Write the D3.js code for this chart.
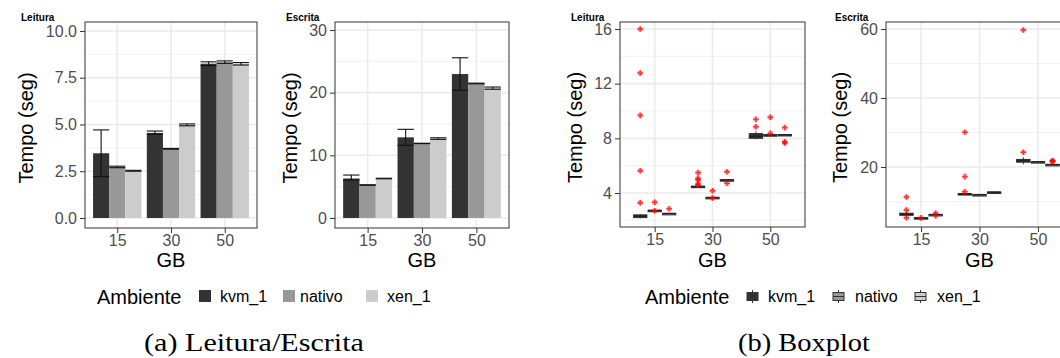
<!DOCTYPE html>
<html><head><meta charset="utf-8">
<script src="https://cdn.jsdelivr.net/npm/d3@7"></script>
<style>body{margin:0;background:#fff} text{font-family:"Liberation Sans",Arial,sans-serif}</style>
</head><body><svg id="c" width="1060" height="358"></svg>
<script>
// ---------- DATA ----------
const categories = ["15", "30", "50"];
const seriesNames = ["kvm_1", "nativo", "xen_1"];
const fills = ["#333333", "#989898", "#cccccc"];

// Bar chart – Leitura (mean, [low, high] error)
const leituraKvmMean = [3.46, 4.55, 8.25];
const leituraNativoMean = [2.72, 3.70, 8.33];
const leituraXenMean = [2.52, 4.97, 8.25];
const leituraKvmErr = [[2.21, 4.71], [4.47, 4.65], [8.15, 8.35]];
const leituraNativoErr = [[2.69, 2.77], [3.68, 3.72], [8.27, 8.40]];
const leituraXenErr = [[2.50, 2.55], [4.93, 5.03], [8.18, 8.31]];

// Bar chart – Escrita
const escritaKvmMean = [6.30, 12.87, 22.97];
const escritaNativoMean = [5.26, 11.90, 21.48];
const escritaXenMean = [6.30, 12.65, 20.75];
const escritaKvmErr = [[6.05, 6.85], [11.60, 14.15], [20.40, 25.57]];
const escritaNativoErr = [[5.22, 5.30], [11.87, 11.93], [21.42, 21.52]];
const escritaXenErr = [[6.26, 6.34], [12.55, 12.80], [20.55, 20.90]];

// Boxplot – Leitura: [whiskerLow, q1, median, q3, whiskerHigh]
const boxLeituraKvm = [[2.15, 2.20, 2.30, 2.40, 2.46], [4.40, 4.43, 4.46, 4.50, 4.52], [7.93, 8.00, 8.15, 8.35, 8.50]];
const boxLeituraNativo = [[2.66, 2.68, 2.71, 2.74, 2.76], [3.62, 3.64, 3.66, 3.68, 3.70], [8.20, 8.22, 8.24, 8.26, 8.28]];
const boxLeituraXen = [[2.46, 2.47, 2.49, 2.51, 2.52], [4.92, 4.93, 4.95, 4.97, 4.98], [8.18, 8.20, 8.24, 8.28, 8.30]];
const outLeituraKvm = [[16.0, 12.78, 9.68, 5.63, 3.29], [5.49, 5.07, 4.95, 4.66, 4.59], [9.39, 8.85]];
const outLeituraNativo = [[3.32, 2.70], [4.17, 3.64], [9.54, 8.36]];
const outLeituraXen = [[2.85], [5.56, 4.71], [8.78, 7.75, 7.66]];

// Boxplot – Escrita
const boxEscritaKvm = [[5.7, 6.0, 6.3, 6.6, 6.9], [12.0, 12.05, 12.17, 12.3, 12.35], [20.8, 21.4, 21.9, 22.2, 22.8]];
const boxEscritaNativo = [[5.10, 5.15, 5.22, 5.30, 5.35], [11.90, 11.93, 11.97, 12.01, 12.05], [21.40, 21.45, 21.50, 21.55, 21.60]];
const boxEscritaXen = [[6.00, 6.10, 6.17, 6.25, 6.35], [12.50, 12.60, 12.67, 12.75, 12.85], [20.50, 20.60, 20.67, 20.75, 20.85]];
const outEscritaKvm = [[11.3, 7.54, 5.3], [30.06, 17.2, 12.84], [59.7, 24.26]];
const outEscritaNativo = [[5.25], [], []];
const outEscritaXen = [[6.6, 5.9], [], [21.74, 21.6, 21.8]];

// tick values
const ticksBarLeitura = [0, 2.5, 5, 7.5, 10];
const ticksBarEscrita = [0, 10, 20, 30];
const ticksBoxLeitura = [4, 8, 12, 16];
const ticksBoxEscrita = [20, 40, 60];

// ---------- DRAW ----------
const svg = d3.select("#c");
const tickColor = "#4d4d4d";

function panelFrame(p) {
  const g = svg.append("g");
  const x = d3.scalePoint().domain(categories).range([p.x0, p.x1]).padding(0.6);
  const y = d3.scaleLinear().domain(p.domain).range([p.y1, p.y0]);
  // clip
  const id = "clip" + Math.random().toString(36).slice(2);
  svg.append("clipPath").attr("id", id).append("rect")
    .attr("x", p.x0).attr("y", p.y0).attr("width", p.x1 - p.x0).attr("height", p.y1 - p.y0);
  g.append("rect").attr("x", p.x0).attr("y", p.y0).attr("width", p.x1 - p.x0).attr("height", p.y1 - p.y0).attr("fill", "#fff");
  const grid = g.append("g").attr("clip-path", `url(#${id})`);
  // minor grid
  const mt = p.ticks;
  const minor = [];
  const st = mt[1] - mt[0];
  for (let v = mt[0] - st / 2; v <= p.domain[1]; v += st) if (v >= p.domain[0]) minor.push(v);
  grid.selectAll(".mi").data(minor).enter().append("line")
    .attr("x1", p.x0).attr("x2", p.x1).attr("y1", d => y(d)).attr("y2", d => y(d))
    .attr("stroke", "#f0f0f0").attr("stroke-width", 0.9);
  grid.selectAll(".ma").data(mt).enter().append("line")
    .attr("x1", p.x0).attr("x2", p.x1).attr("y1", d => y(d)).attr("y2", d => y(d))
    .attr("stroke", "#ebebeb").attr("stroke-width", 1.6);
  grid.selectAll(".mv").data(categories).enter().append("line")
    .attr("y1", p.y0).attr("y2", p.y1).attr("x1", d => x(d)).attr("x2", d => x(d))
    .attr("stroke", "#ebebeb").attr("stroke-width", 1.6);
  const marks = g.append("g").attr("clip-path", `url(#${id})`);
  return { g, x, y, marks, id };
}

function finishPanel(P, p) {
  const { g, x, y } = P;
  g.append("rect").attr("x", p.x0).attr("y", p.y0).attr("width", p.x1 - p.x0).attr("height", p.y1 - p.y0)
    .attr("fill", "none").attr("stroke", "#333").attr("stroke-width", 1);
  const ya = g.append("g").attr("transform", `translate(${p.x0},0)`)
    .call(d3.axisLeft(y).tickValues(p.ticks).tickSize(5).tickPadding(3).tickFormat(p.fmt));
  const xa = g.append("g").attr("transform", `translate(0,${p.y1})`)
    .call(d3.axisBottom(x).tickSize(5).tickPadding(2));
  [ya, xa].forEach(a => {
    a.select(".domain").remove();
    a.selectAll("line").attr("stroke", "#333");
    a.selectAll("text").attr("fill", tickColor).style("font-size", "16px").style("font-family", "Liberation Sans, Arial, sans-serif");
  });
  // titles
  g.append("text").attr("x", p.titleX).attr("y", 21).text(p.title)
    .style("font-size", "10px").style("font-weight", "bold").attr("fill", "#000");
  g.append("text").attr("transform", `translate(${p.yTitleX},${(p.y0 + p.y1) / 2 + 3}) rotate(-90)`)
    .attr("text-anchor", "middle").attr("dominant-baseline", "central")
    .style("font-size", "20px").text("Tempo (seg)");
  g.append("text").attr("x", x(categories[1])).attr("y", 267).attr("text-anchor", "middle")
    .style("font-size", "20px").text("GB");
}

function barPanel(p, means, errs) {
  const P = panelFrame(p);
  const step = P.x.step();
  const bw = step * 0.3;
  means.forEach((ser, si) => {
    ser.forEach((v, ci) => {
      const cx = P.x(categories[ci]) + (si - 1) * bw;
      P.marks.append("rect").attr("x", cx - bw / 2).attr("width", bw)
        .attr("y", P.y(v)).attr("height", P.y(0) - P.y(v)).attr("fill", fills[si]);
    });
  });
  errs.forEach((ser, si) => {
    ser.forEach((e, ci) => {
      const cx = P.x(categories[ci]) + (si - 1) * bw;
      const ge = P.marks.append("g").attr("stroke", "#111").attr("stroke-width", 1.1);
      ge.append("line").attr("x1", cx).attr("x2", cx).attr("y1", P.y(e[0])).attr("y2", P.y(e[1]));
      ge.append("line").attr("x1", cx - bw / 2).attr("x2", cx + bw / 2).attr("y1", P.y(e[0])).attr("y2", P.y(e[0]));
      ge.append("line").attr("x1", cx - bw / 2).attr("x2", cx + bw / 2).attr("y1", P.y(e[1])).attr("y2", P.y(e[1]));
    });
  });
  finishPanel(P, p);
}

function outlier(g, cx, cy) {
  g.append("circle").attr("cx", cx).attr("cy", cy).attr("r", 2.8).attr("fill", "red").attr("opacity", 0.35);
  g.append("path").attr("d", `M${cx - 2.8},${cy}H${cx + 2.8}M${cx},${cy - 2.8}V${cy + 2.8}`)
    .attr("stroke", "red").attr("stroke-width", 1.4).attr("opacity", 0.7);
}

function boxPanel(p, boxes, outs) {
  const P = panelFrame(p);
  const step = P.x.step();
  const off = step * 0.25;
  const bw = off * 0.92;
  boxes.forEach((ser, si) => {
    ser.forEach((b, ci) => {
      const cx = P.x(categories[ci]) + (si - 1) * off;
      const gb = P.marks.append("g");
      gb.append("line").attr("x1", cx).attr("x2", cx).attr("y1", P.y(b[0])).attr("y2", P.y(b[4]))
        .attr("stroke", "#333").attr("stroke-width", 1);
      const top = P.y(b[3]), bot = P.y(b[1]);
      gb.append("rect").attr("x", cx - bw / 2).attr("width", bw).attr("y", top).attr("height", Math.max(bot - top, 1.5))
        .attr("fill", fills[si]).attr("stroke", "#333").attr("stroke-width", 1);
      gb.append("line").attr("x1", cx - bw / 2).attr("x2", cx + bw / 2).attr("y1", P.y(b[2])).attr("y2", P.y(b[2]))
        .attr("stroke", "#222").attr("stroke-width", 1.6);
    });
  });
  outs.forEach((ser, si) => {
    ser.forEach((arr, ci) => {
      const cx = P.x(categories[ci]) + (si - 1) * off;
      arr.forEach(v => outlier(P.marks, cx, P.y(v)));
    });
  });
  finishPanel(P, p);
}

barPanel({ x0: 85, x1: 257, y0: 22, y1: 228, domain: [-0.535, 10.48], ticks: ticksBarLeitura, fmt: d3.format(".1f"),
  title: "Leitura", titleX: 21, yTitleX: 26 },
  [leituraKvmMean, leituraNativoMean, leituraXenMean], [leituraKvmErr, leituraNativoErr, leituraXenErr]);

barPanel({ x0: 335, x1: 509, y0: 22, y1: 228, domain: [-1.6, 31.28], ticks: ticksBarEscrita, fmt: d3.format("d"),
  title: "Escrita", titleX: 286, yTitleX: 290 },
  [escritaKvmMean, escritaNativoMean, escritaXenMean], [escritaKvmErr, escritaNativoErr, escritaXenErr]);

boxPanel({ x0: 620, x1: 805, y0: 22, y1: 227, domain: [1.513, 16.51], ticks: ticksBoxLeitura, fmt: d3.format("d"),
  title: "Leitura", titleX: 571, yTitleX: 575 },
  [boxLeituraKvm, boxLeituraNativo, boxLeituraXen], [outLeituraKvm, outLeituraNativo, outLeituraXen]);

boxPanel({ x0: 886, x1: 1073, y0: 22, y1: 227, domain: [2.61, 62.03], ticks: ticksBoxEscrita, fmt: d3.format("d"),
  title: "Escrita", titleX: 835, yTitleX: 840 },
  [boxEscritaKvm, boxEscritaNativo, boxEscritaXen], [outEscritaKvm, outEscritaNativo, outEscritaXen]);

// ---------- LEGENDS ----------
function legend(titleX, keyXs, labelXs, boxStyle) {
  const g = svg.append("g");
  g.append("text").attr("x", titleX).attr("y", 304).style("font-size", "20px").text("Ambiente");
  seriesNames.forEach((n, i) => {
    const kx = keyXs[i];
    if (!boxStyle) {
      g.append("rect").attr("x", kx).attr("y", 290).attr("width", 12).attr("height", 12).attr("fill", fills[i]);
    } else {
      const cx = kx + 5.5;
      g.append("line").attr("x1", cx).attr("x2", cx).attr("y1", 290).attr("y2", 303).attr("stroke", "#333");
      g.append("rect").attr("x", kx).attr("y", 292.5).attr("width", 11).attr("height", 8)
        .attr("fill", fills[i]).attr("stroke", "#333");
      g.append("line").attr("x1", kx).attr("x2", kx + 11).attr("y1", 296.5).attr("y2", 296.5).attr("stroke", "#333");
    }
    g.append("text").attr("x", labelXs[i]).attr("y", 302).style("font-size", "16px").text(n);
  });
}
legend(97, [199, 283, 366], [220, 300, 387], false);
legend(645, [747, 833, 915], [768, 855, 937], true);

// ---------- CAPTIONS ----------
svg.append("text").attr("x", 254).attr("y", 351).attr("text-anchor", "middle")
  .style("font-family", "Liberation Serif, serif").style("font-size", "25px")
  .attr("textLength", 220).attr("lengthAdjust", "spacingAndGlyphs").text("(a) Leitura/Escrita");
svg.append("text").attr("x", 804).attr("y", 351).attr("text-anchor", "middle")
  .style("font-family", "Liberation Serif, serif").style("font-size", "25px")
  .attr("textLength", 132).attr("lengthAdjust", "spacingAndGlyphs").text("(b) Boxplot");
</script></body></html>
